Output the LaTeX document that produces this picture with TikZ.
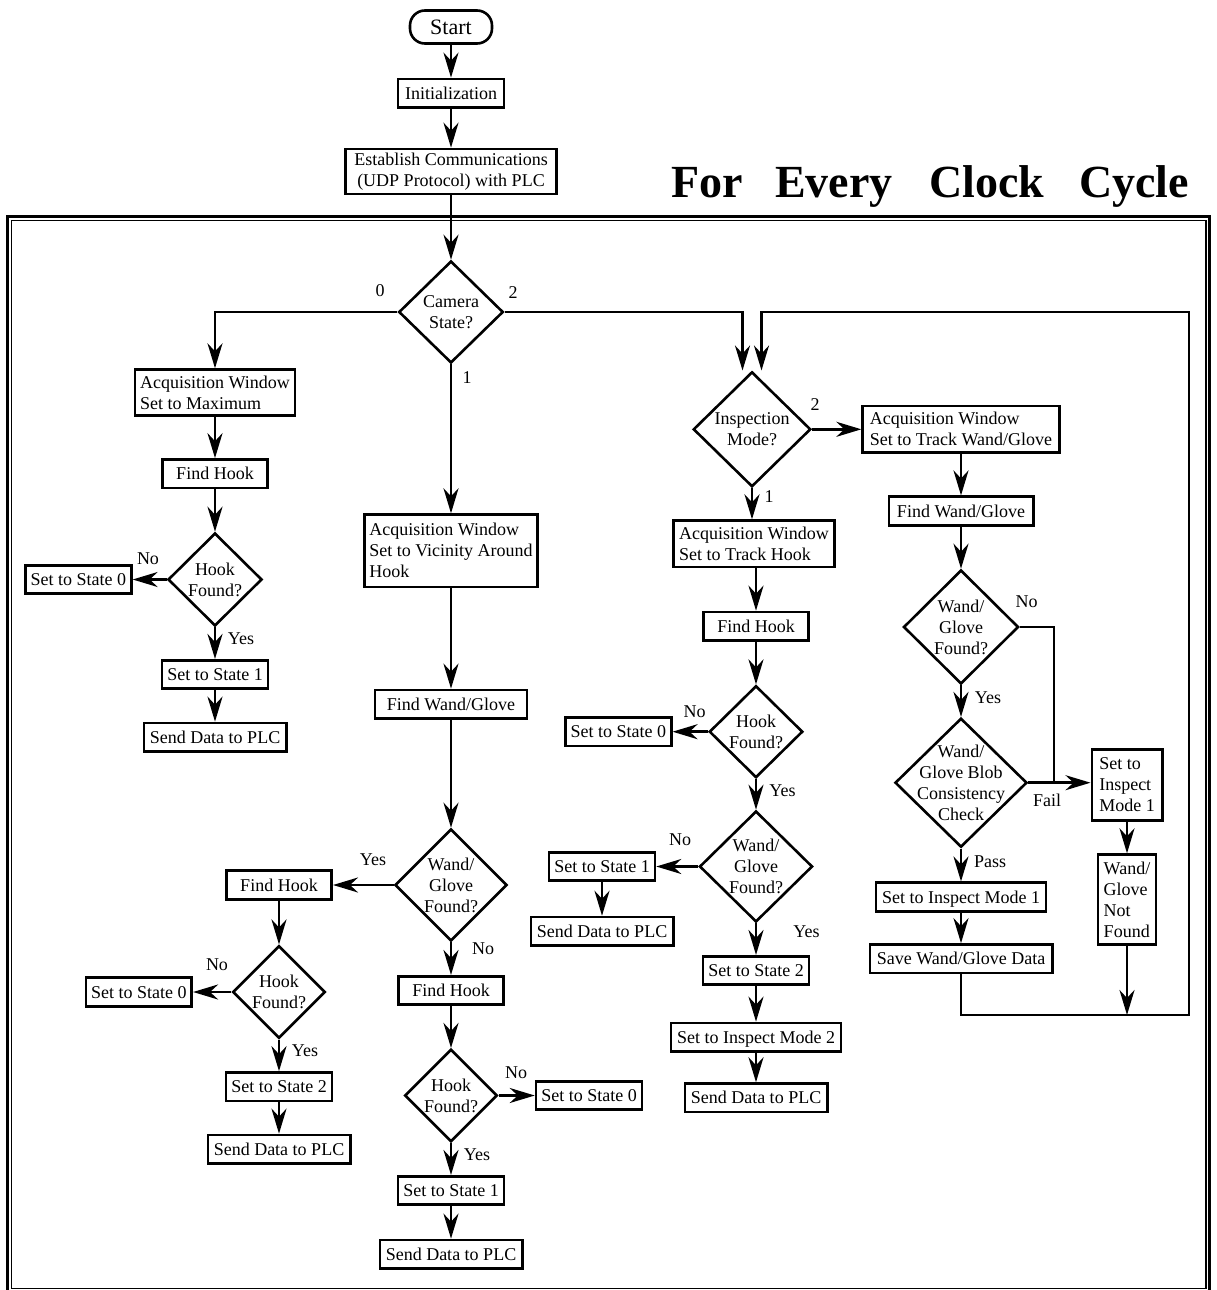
\documentclass[tikz,border=0pt]{standalone}
\usepackage{fontspec}
\setmainfont{Liberation Serif}
\usetikzlibrary{arrows.meta,shapes.geometric}

\begin{document}
\begin{tikzpicture}[x=1pt,y=-1pt,
  txt/.style={font=\fontsize{18}{21}\selectfont},
  base/.style={draw, line width=2.6pt, txt, inner xsep=3pt, inner ysep=2pt},
  box/.style={base, minimum height=28.5pt, text height=12pt, text depth=0pt},
  mbox/.style={base, align=left},
  cbox/.style={base, align=center},
  dtext/.style={txt, align=center, inner sep=0pt},
  dec/.style={diamond, draw, line width=2.6pt, inner sep=0pt, label={[dtext]center:#1}},
  lbl/.style={txt, inner sep=0pt},
  flow/.style={line width=2.6pt, -{Stealth[length=25pt,width=15pt,inset=8pt]}},
  link/.style={line width=2.6pt},
  fhw/.style={minimum width=105.4pt},
  ssw/.style={minimum width=105.9pt},
  sdw/.style={minimum width=142.4pt}]

\useasboundingbox (0,0) rectangle (1217,1290);

% double frame around the per-cycle loop
\draw[line width=3pt] (7.5,216.5) rectangle (1209.5,1293);
\draw[line width=1.3pt] (11.5,220.5) rectangle (1206,1288.5);

\node[anchor=base west, inner sep=0pt, font=\fontsize{46}{50}\selectfont\bfseries] (title) at (671,197)
  {For\hspace{32.5pt}Every\hspace{36.5pt}Clock\hspace{35pt}Cycle};

% start-up
\node[base, rounded corners=15pt, minimum width=82pt, minimum height=33pt,
      text height=15pt, text depth=0pt,
      font=\fontsize{22}{26}\selectfont] (start) at (451,27) {Start};
\node[box, minimum width=105.8pt] (init) at (451,93.2) {Initialization};
\node[cbox, minimum width=211pt, minimum height=45pt] (estab) at (451,171.5)
  {Establish Communications\\(UDP Protocol) with PLC};
\node[dec={Camera\\State?}, minimum width=104.5pt, minimum height=102pt] (cam) at (451,312) {};

% camera state 0
\node[mbox, minimum width=159.7pt, minimum height=45.8pt] (acqmax) at (215,392.5)
  {Acquisition Window\\Set to Maximum};
\node[box, fhw] (fh0) at (215,473.7) {Find Hook};
\node[dec={Hook\\Found?}, minimum width=94pt, minimum height=93pt] (hf0) at (215,579.5) {};
\node[box, ssw] (s00) at (78.4,579.5) {Set to State 0};
\node[box, ssw] (s01) at (215,674.5) {Set to State 1};
\node[box, sdw] (sd0) at (215,737.2) {Send Data to PLC};

% camera state 1
\node[mbox, minimum width=173.4pt, minimum height=72.4pt] (acqvic) at (451,550.8)
  {Acquisition Window\\Set to Vicinity Around\\Hook};
\node[box, minimum width=151.8pt] (fwg1) at (451,704.2) {Find Wand/Glove};
\node[dec={Wand/\\Glove\\Found?}, minimum width=112pt, minimum height=112pt] (wg1) at (451,885) {};
\node[box, fhw] (fhL) at (279,885) {Find Hook};
\node[dec={Hook\\Found?}, minimum width=92.5pt, minimum height=92.5pt] (hfL) at (279,992) {};
\node[box, ssw] (sL0) at (138.8,992) {Set to State 0};
\node[box, ssw] (sL2) at (279,1086.7) {Set to State 2};
\node[box, sdw] (sdL) at (279,1149.2) {Send Data to PLC};
\node[box, fhw] (fhC) at (451,990.5) {Find Hook};
\node[dec={Hook\\Found?}, minimum width=92.5pt, minimum height=92.5pt] (hfC) at (451,1095.5) {};
\node[box, ssw] (sC0) at (589,1095.5) {Set to State 0};
\node[box, ssw] (sC1) at (451,1190.5) {Set to State 1};
\node[box, sdw] (sdC) at (451,1254.2) {Send Data to PLC};

% camera state 2: inspection modes
\node[dec={Inspection\\Mode?}, minimum width=117.5pt, minimum height=115pt] (insp) at (752,429.3) {};
\node[mbox, minimum width=196.7pt, minimum height=46.8pt] (acqtw) at (961,429.3)
  {Acquisition Window\\Set to Track Wand/Glove};
\node[mbox, minimum width=160.6pt, minimum height=46.4pt] (acqth) at (754,543.8)
  {Acquisition Window\\Set to Track Hook};
\node[box, fhw] (fh2) at (756,626.2) {Find Hook};
\node[dec={Hook\\Found?}, minimum width=93.5pt, minimum height=92pt] (hf2) at (756,731.7) {};
\node[box, ssw] (s20) at (618.3,731.7) {Set to State 0};
\node[dec={Wand/\\Glove\\Found?}, minimum width=113pt, minimum height=111pt] (wg2) at (756,866.5) {};
\node[box, ssw] (s21) at (602,866.5) {Set to State 1};
\node[box, sdw] (sd21) at (602,931.3) {Send Data to PLC};
\node[box, ssw] (s22) at (756,970.5) {Set to State 2};
\node[box, minimum width=169.7pt] (sim2) at (756,1037.2) {Set to Inspect Mode 2};
\node[box, sdw] (sd22) at (756,1097.8) {Send Data to PLC};

\node[box, minimum width=144.4pt] (fwg3) at (961,511) {Find Wand/Glove};
\node[dec={Wand/\\Glove\\Found?}, minimum width=115pt, minimum height=114pt] (wg3) at (961,627) {};
\node[dec={Wand/\\Glove Blob\\Consistency\\Check}, minimum width=132pt, minimum height=129pt] (blob) at (961,782.7) {};
\node[mbox, minimum width=70.4pt, minimum height=71.4pt] (sim1r) at (1127,785) {Set to\\Inspect\\Mode 1};
\node[mbox, minimum width=57.8pt, minimum height=89.8pt] (nf) at (1127,899.5) {Wand/\\Glove\\Not\\Found};
\node[box, minimum width=170.2pt] (sim1) at (961,897) {Set to Inspect Mode 1};
\node[box, minimum width=182.4pt] (save) at (961,958.7) {Save Wand/Glove Data};

\coordinate (join) at (1054,782.7);
\coordinate (loopbr) at (1189,1015);
\coordinate (looptr) at (1189,312);

% connectors
\draw[flow] (start) -- (init);
\draw[flow] (init) -- (estab);
\draw[flow] (estab) -- (cam);
\draw[flow] (cam.west) -| (acqmax.north);
\draw[flow] (cam.south) -- (acqvic.north);
\draw[flow] (cam.east) -| ([xshift=-9.5pt]insp.north);

\draw[flow] (acqmax) -- (fh0);
\draw[flow] (fh0) -- (hf0);
\draw[flow] (hf0.west) -- (s00.east);
\draw[flow] (hf0.south) -- (s01.north);
\draw[flow] (s01) -- (sd0);

\draw[flow] (acqvic) -- (fwg1);
\draw[flow] (fwg1) -- (wg1);
\draw[flow] (wg1.west) -- (fhL.east);
\draw[flow] (fhL) -- (hfL);
\draw[flow] (hfL.west) -- (sL0.east);
\draw[flow] (hfL.south) -- (sL2.north);
\draw[flow] (sL2) -- (sdL);
\draw[flow] (wg1.south) -- (fhC.north);
\draw[flow] (fhC) -- (hfC);
\draw[flow] (hfC.east) -- (sC0.west);
\draw[flow] (hfC.south) -- (sC1.north);
\draw[flow] (sC1) -- (sdC);

\draw[flow] (insp.south) -- (insp.south |- acqth.north);
\draw[flow] (insp.east) -- (acqtw.west);
\draw[flow] (fh2.north |- acqth.south) -- (fh2.north);
\draw[flow] (fh2) -- (hf2);
\draw[flow] (hf2.west) -- (s20.east);
\draw[flow] (hf2.south) -- (wg2.north);
\draw[flow] (wg2.west) -- (s21.east);
\draw[flow] (s21) -- (sd21);
\draw[flow] (wg2.south) -- (s22.north);
\draw[flow] (s22) -- (sim2);
\draw[flow] (sim2) -- (sd22);

\draw[flow] (acqtw) -- (fwg3);
\draw[flow] (fwg3) -- (wg3);
\draw[flow] (wg3.south) -- (blob.north);
\draw[link] (wg3.east) -| (join);
\draw[flow] (blob.east) -- (blob.east -| sim1r.west);
\draw[flow] (sim1r) -- (nf);
\draw[flow] (blob.south) -- (sim1.north);
\draw[flow] (sim1) -- (save);
\draw[flow] (save.south) |- (loopbr) -- (looptr) -| ([xshift=9.5pt]insp.north);
\draw[flow] (nf.south) -- (nf.south |- loopbr);

% branch labels
\node[lbl] (c0) at (380,291) {0};
\node[lbl] (c2) at (513,293) {2};
\node[lbl] (c1) at (467,378) {1};
\node[lbl] (n1) at (148,559) {No};
\node[lbl] (y1) at (241,639) {Yes};
\node[lbl] (y2) at (373,860) {Yes};
\node[lbl] (n2) at (217,965) {No};
\node[lbl] (y3) at (305,1051) {Yes};
\node[lbl] (n3) at (483,949) {No};
\node[lbl] (n4) at (516,1073) {No};
\node[lbl] (y4) at (477,1155) {Yes};
\node[lbl] (m2) at (815,405) {2};
\node[lbl] (m1) at (769,497) {1};
\node[lbl] (n5) at (694.5,712) {No};
\node[lbl] (y5) at (782.5,791) {Yes};
\node[lbl] (n6) at (680,840) {No};
\node[lbl] (y6) at (806.5,932) {Yes};
\node[lbl] (n7) at (1026.5,602) {No};
\node[lbl] (y7) at (988,698) {Yes};
\node[lbl] (fl) at (1047,800) {Fail};
\node[lbl] (ps) at (990,862) {Pass};
\end{tikzpicture}
\end{document}
